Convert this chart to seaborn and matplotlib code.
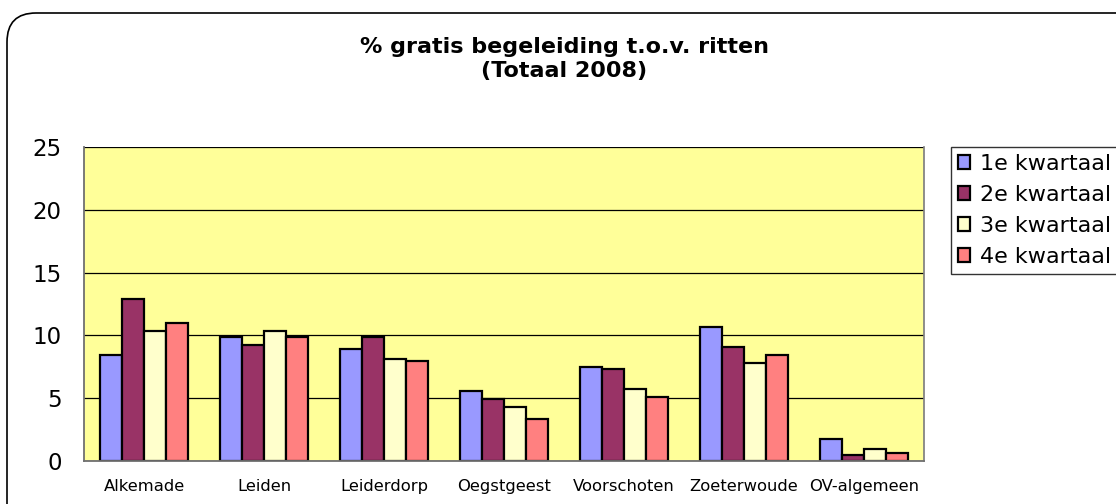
import matplotlib
matplotlib.use("Agg")
import matplotlib.pyplot as plt
import seaborn as sns
import pandas as pd
from matplotlib.patches import FancyBboxPatch

categories = ["Alkemade", "Leiden", "Leiderdorp", "Oegstgeest", "Voorschoten", "Zoeterwoude", "OV-algemeen"]
series = ["1e kwartaal", "2e kwartaal", "3e kwartaal", "4e kwartaal"]
q1 = [8.4, 9.85, 8.9, 5.6, 7.5, 10.7, 1.75]
q2 = [12.9, 9.25, 9.85, 4.95, 7.35, 9.1, 0.5]
q3 = [10.35, 10.35, 8.1, 4.3, 5.75, 7.8, 0.95]
q4 = [11.0, 9.85, 7.95, 3.35, 5.1, 8.45, 0.65]
colors = ["#9999FF", "#993366", "#FFFFCC", "#FF8080"]
title = "% gratis begeleiding t.o.v. ritten\n(Totaal 2008)"

rows = []
for s, vals in zip(series, [q1, q2, q3, q4]):
    for c, v in zip(categories, vals):
        rows.append({"Gemeente": c, "Kwartaal": s, "Waarde": v})
df = pd.DataFrame(rows)

sns.set_theme(style="white")
plt.rcParams["font.family"] = ["DejaVu Sans"]
plt.rcParams["text.color"] = "black"
plt.rcParams["xtick.color"] = "black"
plt.rcParams["ytick.color"] = "black"
plt.rcParams["axes.labelcolor"] = "black"

fig = plt.figure(figsize=(11.16, 5.04), dpi=100)
fig.patch.set_facecolor("white")
W, H = 1116, 504
ax = fig.add_axes([84 / W, 1 - 461 / H, (924 - 84) / W, (461 - 147) / H])

sns.barplot(data=df, x="Gemeente", y="Waarde", hue="Kwartaal", order=categories,
            hue_order=series, palette=colors, width=0.74, edgecolor="black",
            linewidth=1.6, saturation=1, ax=ax, legend=True)

ax.set_facecolor("#FFFF99")
ax.set_ylim(0, 25)
ax.set_xlim(-0.5, len(categories) - 0.5)
ax.set_yticks([0, 5, 10, 15, 20, 25])
ax.yaxis.grid(True, color="black", linewidth=0.9)
ax.set_axisbelow(True)
ax.set_xlabel("")
ax.set_ylabel("")
for sp in ["left", "bottom"]:
    ax.spines[sp].set_color("#707070")
    ax.spines[sp].set_linewidth(1.3)
ax.spines["top"].set_visible(False)
ax.spines["right"].set_color("#808080")

ax.set_xticks([i for i in range(len(categories))])
ax.set_xticklabels(categories, fontsize=11.8, color="black")
ax.tick_params(axis="x", length=0, pad=13, labelcolor="black")
ax.set_xticks([i - 0.5 for i in range(len(categories) + 1)], minor=True)
ax.tick_params(axis="x", which="minor", length=6, color="#707070", width=1.3, direction="out")
ax.tick_params(axis="y", length=7, color="#707070", width=1.3, direction="out",
               labelsize=16.5, pad=9, labelcolor="black")

leg = ax.legend(loc="upper left", bbox_to_anchor=(951 / W, 1 - 147 / H),
                bbox_transform=fig.transFigure, frameon=True, fancybox=False,
                fontsize=16, handlelength=0.55, handleheight=0.55,
                handletextpad=0.45, labelspacing=0.5, borderpad=0.3,
                borderaxespad=0)
leg.get_frame().set_edgecolor("black")
leg.get_frame().set_linewidth(1.0)
for h in leg.legend_handles:
    h.set_edgecolor("black")
    h.set_linewidth(1.6)
for t in leg.get_texts():
    t.set_color("black")

fig.text(564 / W, 1 - 59 / H, title, ha="center", va="center", color="black",
         fontsize=16, fontweight="bold", linespacing=1.28)

box = FancyBboxPatch((7 / W, -30 / H), (1200 - 7) / W, (504 - 13 + 30) / H,
                     boxstyle="round,pad=0,rounding_size=0.026",
                     transform=fig.transFigure, facecolor="none",
                     edgecolor="black", linewidth=1.2, mutation_aspect=W / H)
fig.patches.append(box)

fig.savefig("out.png", dpi=100)
